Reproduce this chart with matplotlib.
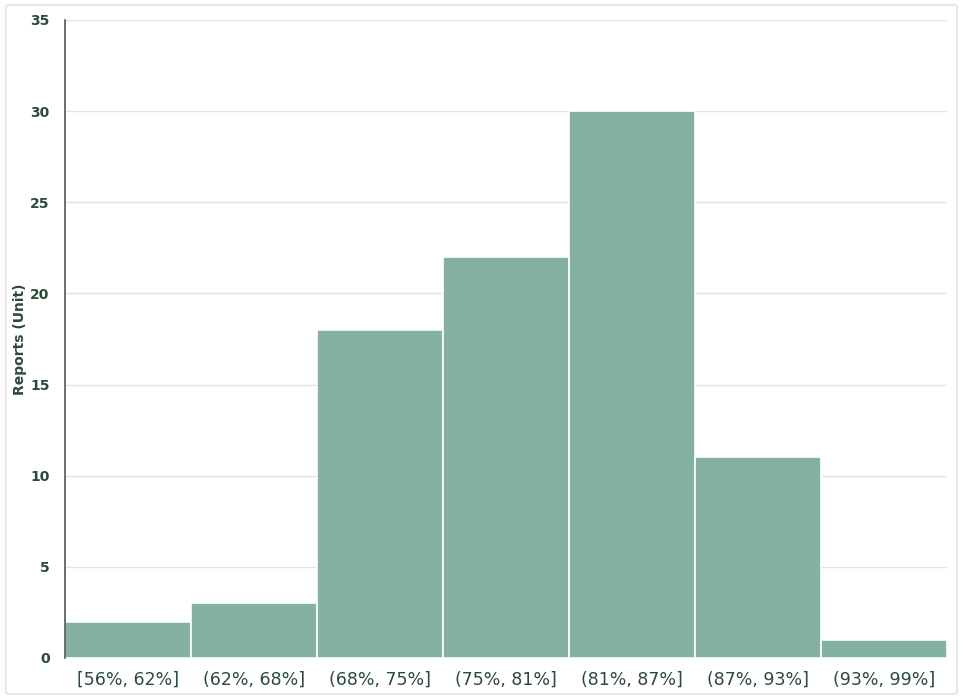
import numpy as np
import matplotlib.pyplot as plt
from matplotlib.patches import FancyBboxPatch

bins = ["[56%, 62%]", "(62%, 68%]", "(68%, 75%]", "(75%, 81%]",
        "(81%, 87%]", "(87%, 93%]", "(93%, 99%]"]
counts = [2, 3, 18, 22, 30, 11, 1]
yticks = [0, 5, 10, 15, 20, 25, 30, 35]

text_col = "#2b4a38"

fig = plt.figure(figsize=(9.63, 6.99), dpi=100)
fig.patches.append(FancyBboxPatch((0.006, 0.007), 0.988, 0.986,
                                  boxstyle="round,pad=0,rounding_size=0.004",
                                  transform=fig.transFigure, fill=False,
                                  edgecolor="#e3e3e3", linewidth=1.2))
ax = fig.add_axes([0.0675, 0.0587, 0.916, 0.9127])

x = np.arange(len(bins))
ax.bar(x, counts, width=1.0, color="#84b1a0", edgecolor="white", linewidth=1.2, zorder=3)

ax.set_xlim(-0.5, len(bins) - 0.5)
ax.set_ylim(0, 35)
ax.set_yticks(yticks)
ax.set_xticks(x)
ax.set_xticklabels(bins, fontsize=12.5, color=text_col, family="DejaVu Sans")
for lab in ax.get_yticklabels():
    lab.set_fontweight("bold")
    lab.set_color(text_col)
    lab.set_fontsize(10)
ax.tick_params(axis="x", length=0, pad=9)
ax.tick_params(axis="y", length=0, pad=11)

ax.grid(axis="y", color="#e2e2e2", linewidth=1, zorder=0)
for s in ["top", "right", "bottom"]:
    ax.spines[s].set_visible(False)
ax.spines["left"].set_color("#555555")
ax.spines["left"].set_linewidth(1.2)
ax.spines["left"].set_zorder(4)

ax.set_ylabel("Reports (Unit)", fontsize=10, fontweight="bold", color=text_col)
ax.yaxis.set_label_coords(-0.043, 0.5)

fig.savefig("out.png", dpi=100)
